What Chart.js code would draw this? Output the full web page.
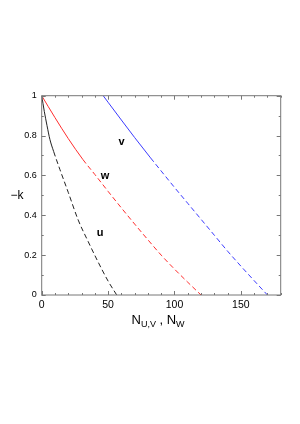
<!DOCTYPE html>
<html>
<head>
<meta charset="utf-8">
<script src="https://cdn.jsdelivr.net/npm/chart.js@4.4.0/dist/chart.umd.min.js"></script>
<style>
  html, body { margin: 0; padding: 0; background: #fff; }
  #wrap { width: 300px; height: 424px; }
</style>
</head>
<body>
<div id="wrap"><canvas id="chart"></canvas></div>
<script>
// curve u (black); solid up to index uSolidEnd, dashed after
const uX = [0, 2, 4, 6.2, 9, 13.7, 20, 27.5, 35, 42, 50, 56.5];
const uY = [1, 0.92, 0.85, 0.78, 0.72, 0.63, 0.515, 0.376, 0.268, 0.172, 0.07, 0];
const uSolidEnd = 4;

// curve w (red)
const wX = [0, 10, 20, 31, 40, 50, 60, 70, 80, 90, 100, 110, 120];
const wY = [1, 0.89, 0.785, 0.68, 0.605, 0.52, 0.437, 0.356, 0.277, 0.2, 0.13, 0.064, 0];
const wSolidEnd = 3;

// curve v (blue)
const vX = [46.3, 50, 60, 70, 82, 90, 100, 110, 120, 130, 140, 150, 160, 170];
const vY = [1, 0.967, 0.878, 0.79, 0.688, 0.622, 0.54, 0.46, 0.38, 0.30, 0.22, 0.145, 0.072, 0];
const vSolidEnd = 4;

// axis ticks
const xTicks = [0, 50, 100, 150];
const yTicks = [0, 0.2, 0.4, 0.6, 0.8, 1];

// curve labels
const curveNames = ['u', 'v', 'w'];
const curveNameX = [43.9, 60.2, 47.7];
const curveNameY = [0.318, 0.774, 0.602];

const pts = (xs, ys) => xs.map((x, i) => ({ x: x, y: ys[i] }));

const black = '#222';
const red = 'rgb(255,45,45)';
const blue = 'rgb(60,60,255)';

const curve = (xs, ys, solidEnd, color) => ({
  data: pts(xs, ys),
  borderColor: color,
  borderWidth: 1,
  pointRadius: 0,
  cubicInterpolationMode: 'monotone',
  fill: false,
  segment: {
    borderDash: c => (c.p0DataIndex >= solidEnd ? [5, 3] : undefined)
  }
});

// frame, inner ticks, axis titles and curve labels
const decorations = {
  id: 'decorations',
  afterDraw(chart) {
    const { ctx, chartArea: a, scales } = chart;
    const xs = scales.x, ys = scales.y;
    ctx.save();
    ctx.strokeStyle = '#777';
    ctx.lineWidth = 1;
    ctx.strokeRect(a.left, a.top, a.right - a.left, a.bottom - a.top);

    ctx.beginPath();
    for (let v = 0; v <= 180; v += 10) {
      const px = Math.round(xs.getPixelForValue(v)) + 0.5;
      const len = v % 50 === 0 ? 4 : 2;
      ctx.moveTo(px, a.bottom); ctx.lineTo(px, a.bottom - len);
      ctx.moveTo(px, a.top); ctx.lineTo(px, a.top + len);
    }
    for (let i = 0; i <= 10; i++) {
      const py = Math.round(ys.getPixelForValue(i / 10)) + 0.5;
      const len = i % 2 === 0 ? 4 : 2;
      ctx.moveTo(a.left, py); ctx.lineTo(a.left + len, py);
      ctx.moveTo(a.right, py); ctx.lineTo(a.right - len, py);
    }
    ctx.stroke();

    ctx.fillStyle = '#000';
    ctx.textBaseline = 'alphabetic';

    // curve labels
    ctx.font = 'bold 11px "Liberation Sans", Arial, sans-serif';
    ctx.textAlign = 'center';
    curveNames.forEach((n, i) => {
      ctx.fillText(n, xs.getPixelForValue(curveNameX[i]), ys.getPixelForValue(curveNameY[i]) + 4);
    });

    // y title
    ctx.font = '12px "Liberation Sans", Arial, sans-serif';
    ctx.fillText('\u2212k', 17, (a.top + a.bottom) / 2 + 4);

    // x title: N_{U,V} , N_W
    const big = '13px "Liberation Sans", Arial, sans-serif';
    const small = '9px "Liberation Sans", Arial, sans-serif';
    const base = 324;
    let x = 131.5;
    ctx.textAlign = 'left';
    const put = (t, f, dy) => { ctx.font = f; ctx.fillText(t, x, base + dy); x += ctx.measureText(t).width; };
    put('N', big, 0);
    put('U,V', small, 3);
    put(' , ', big, 0);
    put('N', big, 0);
    put('W', small, 3);
    ctx.restore();
  }
};

new Chart(document.getElementById('chart'), {
  type: 'line',
  data: {
    datasets: [
      curve(uX, uY, uSolidEnd, black),
      curve(wX, wY, wSolidEnd, red),
      curve(vX, vY, vSolidEnd, blue)
    ]
  },
  options: {
    responsive: true,
    maintainAspectRatio: false,
    animation: false,
    layout: { padding: { left: 0, right: 19.3, top: 95.7, bottom: 89 } },
    plugins: { legend: { display: false }, tooltip: { enabled: false } },
    scales: {
      x: {
        type: 'linear',
        min: 0, max: 180,
        afterFit: s => { s.height = 40; },
        afterBuildTicks: s => { s.ticks = xTicks.map(v => ({ value: v })); },
        grid: { display: false, drawTicks: false },
        border: { display: false },
        ticks: { padding: 4, color: '#000', maxRotation: 0, font: { family: '"Liberation Sans", Arial, sans-serif', size: 10.5 } }
      },
      y: {
        type: 'linear',
        min: 0, max: 1,
        afterFit: s => { s.width = 41.7; },
        afterBuildTicks: s => { s.ticks = yTicks.map(v => ({ value: v })); },
        grid: { display: false, drawTicks: false },
        border: { display: false },
        ticks: {
          padding: 5, color: '#000',
          font: { family: '"Liberation Sans", Arial, sans-serif', size: 9 },
          callback: v => String(Math.round(v * 10) / 10)
        }
      }
    }
  },
  plugins: [decorations]
});
</script>
</body>
</html>
